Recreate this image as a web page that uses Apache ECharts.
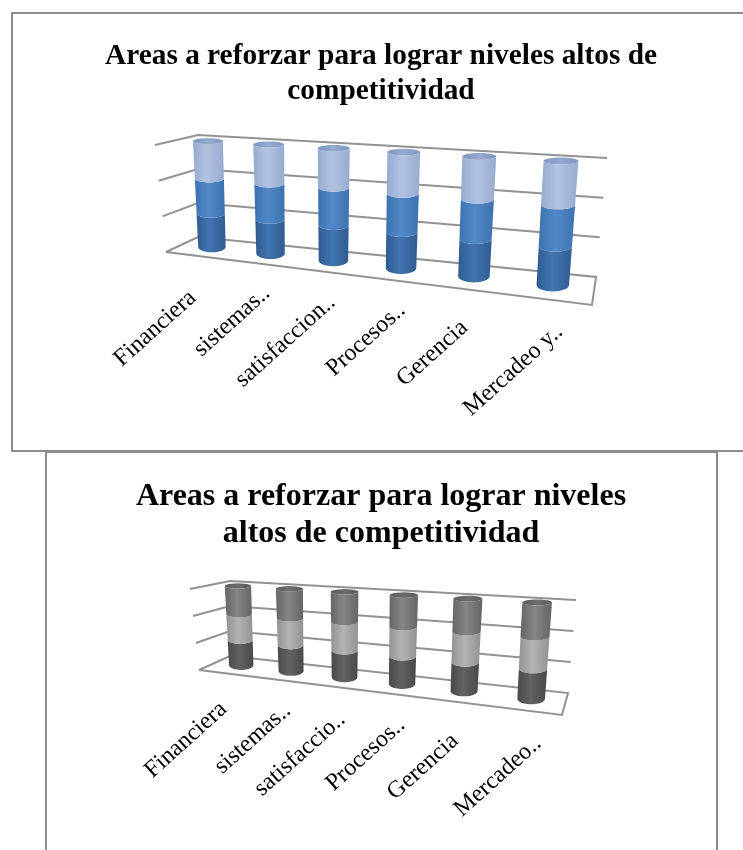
<!DOCTYPE html>
<html><head><meta charset="utf-8">
<style>html,body{margin:0;padding:0;background:#fff}#c{width:743px;height:850px}</style>
<script src="https://cdn.jsdelivr.net/npm/echarts@6/dist/echarts.min.js"></script>
</head><body><div id="c"></div>
<script>
const categoriesTop = ['Financiera','sistemas..','satisfaccion..','Procesos..','Gerencia','Mercadeo y..'];
const categoriesBottom = ['Financiera','sistemas..','satisfaccio..','Procesos..','Gerencia','Mercadeo..'];
const valueTicks = [0,1,2,3];
const lowerValues = [0.96,0.95,0.95,0.94,0.94,0.94];
const middleValues = [0.98,0.98,1.00,0.99,0.99,1.00];
const upperValues = [1.06,1.07,1.05,1.07,1.07,1.06];

const panels = [
 {grid:{left:166,top:135,width:430,height:150},
  title:{text:'Areas a reforzar para lograr niveles altos de\ncompetitividad',x:381,y:39,size:29.33,lh:35},
  cats:categoriesTop,
  colors:[['#2f5c92','#4375ae','#2f5c92'],['#3d72ae','#5189c9','#3d72ae'],['#97abd0','#b2c3e2','#97abd0']],
  cap:['#7f96bf','#94a9cf','#7f96bf'],
  corners:{bbl:[198,237],bbr:[596,277],btl:[198,135],btr:[607,158],fbl:[166,252],fbr:[592,305],ftl:[155,145],ftr:[600,170]},
  radius:{start:13.5,end:16.5,topExtra:1.2},cx:0.5,fontSize:24,
  nudge:[[-2,39],[11,27],[11,28],[11,27],[-2,35],[11,29]]},
 {grid:{left:199,top:581,width:363,height:110},
  title:{text:'Areas a reforzar para lograr niveles\naltos de competitividad',x:381,y:478,size:32,lh:37},
  cats:categoriesBottom,
  colors:[['#494949','#636363','#494949'],['#939393','#b3b3b3','#939393'],['#656565','#858585','#656565']],
  cap:['#5a5a5a','#6e6e6e','#5a5a5a'],
  corners:{bbl:[230,656],bbr:[568,693],btl:[230,581],btr:[576,600],fbl:[199,670],fbr:[562,715],ftl:[190,589],ftr:[568,610]},
  radius:{start:12,end:14,topExtra:1},cx:1.5,fontSize:24,
  nudge:[[0,33],[12,28],[11,30],[11,28],[0,36],[13,30]]}
];

const PERSPECTIVE = 0.2;
const persp = t => (1-PERSPECTIVE)*t/(1-PERSPECTIVE*t);
function warp(c,t,v,w){
  const u=persp(t);
  const lerp=(a,b,k)=>[a[0]+(b[0]-a[0])*k,a[1]+(b[1]-a[1])*k];
  const back=lerp(lerp(c.bbl,c.bbr,u),lerp(c.btl,c.btr,u),v);
  const front=lerp(lerp(c.fbl,c.fbr,u),lerp(c.ftl,c.ftr,u),v);
  return lerp(front,back,w);
}
function norm(params,pt){
  const s=params.coordSys;
  return [(pt[0]-s.x)/s.width,1-(pt[1]-s.y)/s.height];
}
function ellipsePts(p,t,v,from,to){
  const ctr=warp(p.corners,t,v,0.55);
  const rx=p.radius.start+(p.radius.end-p.radius.start)*t+p.radius.topExtra*v;
  const ry=rx*(0.4-0.2*v),out=[];
  for(let k=0;k<=24;k++){
    const a=from+(to-from)*k/24;
    out.push([ctr[0]+p.cx+rx*Math.cos(a),ctr[1]+ry*Math.sin(a)]);
  }
  return out;
}
function gridSeries(p,idx){
  return {type:'custom',xAxisIndex:idx,yAxisIndex:idx,z:1,silent:true,clip:false,
    data:valueTicks.map(t=>[0,t]),
    renderItem(params,api){
      const v=norm(params,api.coord([0,api.value(1)]))[1],c=p.corners;
      const pts=[warp(c,0,v,0),warp(c,0,v,1),warp(c,1,v,1)];
      if(api.value(1)===0){pts.push(warp(c,1,0,0),warp(c,0,0,0));}
      return {type:'polyline',shape:{points:pts},style:{stroke:'#929292',lineWidth:2,fill:null}};
    }};
}
function segSeries(p,idx,vals,below,si,isTop){
  const g=p.colors[si];
  return {type:'custom',name:'s'+si,xAxisIndex:idx,yAxisIndex:idx,z:2+si,silent:true,clip:false,
    data:vals.map((x,i)=>{const s=below.reduce((a,b)=>a+b[i],0);return [i,s,s+x];}),
    renderItem(params,api){
      const i=api.value(0);
      const a=api.coord([i,api.value(1)]),b=api.coord([i,api.value(2)]);
      const na=norm(params,a),nb=norm(params,b),t=na[0];
      const lower=ellipsePts(p,t,na[1],0,Math.PI);
      const upper=ellipsePts(p,t,nb[1],Math.PI,0);
      const fill=new echarts.graphic.LinearGradient(0,0,1,0,[{offset:0,color:g[0]},{offset:.45,color:g[1]},{offset:1,color:g[2]}]);
      const kids=[{type:'polygon',shape:{points:lower.concat(upper)},style:{fill}}];
      if(isTop){
        const cap=ellipsePts(p,t,nb[1],0,2*Math.PI);
        kids.push({type:'polygon',shape:{points:cap},style:{fill:new echarts.graphic.LinearGradient(0,0,1,0,[{offset:0,color:p.cap[0]},{offset:.5,color:p.cap[1]},{offset:1,color:p.cap[2]}])}});
      }
      return {type:'group',children:kids};
    }};
}
function labelSeries(p,idx){
  return {type:'custom',xAxisIndex:idx,yAxisIndex:idx,z:10,silent:true,clip:false,
    data:p.cats.map((n,i)=>[i,0]),
    renderItem(params,api){
      const i=api.value(0),n=norm(params,api.coord([i,0]));
      const q=warp(p.corners,n[0],0,0),d=p.nudge[i];
      return {type:'text',x:q[0]+d[0],y:q[1]+d[1],rotation:42*Math.PI/180,
        style:{text:p.cats[i],font:p.fontSize+'px "Liberation Serif"',fill:'#000',align:'right',verticalAlign:'middle'}};
    }};
}
const series=[];
panels.forEach((p,idx)=>{
  series.push(gridSeries(p,idx));
  series.push(segSeries(p,idx,lowerValues,[],0,false));
  series.push(segSeries(p,idx,middleValues,[lowerValues],1,false));
  series.push(segSeries(p,idx,upperValues,[lowerValues,middleValues],2,true));
  series.push(labelSeries(p,idx));
});
const frame=(pts)=>({type:'polyline',shape:{points:pts},style:{stroke:'#8c8c8c',lineWidth:2,fill:null},silent:true});
const chart=echarts.init(document.getElementById('c'),null,{renderer:'canvas'});
chart.setOption({
  animation:false,
  backgroundColor:'#fff',
  title:panels.map(p=>({text:p.title.text,left:p.title.x,top:p.title.y,textAlign:'center',padding:0,
    textStyle:{fontFamily:'Liberation Serif',fontWeight:'bold',fontSize:p.title.size,lineHeight:p.title.lh,color:'#000'}})),
  grid:panels.map(p=>p.grid),
  xAxis:panels.map((p,i)=>({type:'category',gridIndex:i,data:p.cats,show:false})),
  yAxis:panels.map((p,i)=>({type:'value',gridIndex:i,min:0,max:3,interval:1,show:false})),
  graphic:[
    frame([[743,13],[12,13],[12,451],[743,451]]),
    frame([[46,850],[46,452],[717,452],[717,850]])
  ],
  series
});
</script></body></html>
